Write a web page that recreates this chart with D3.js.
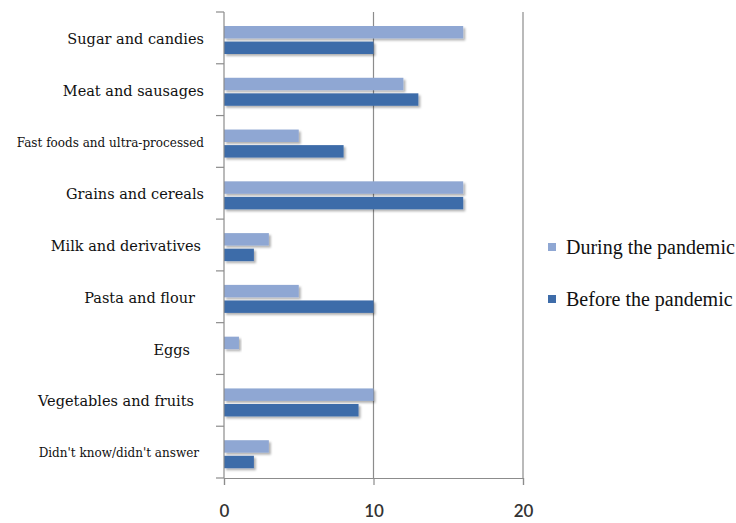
<!DOCTYPE html>
<html>
<head>
<meta charset="utf-8">
<script src="https://cdn.jsdelivr.net/npm/d3@7"></script>
<style>
  html, body { margin: 0; padding: 0; background: #fff; }
  svg { display: block; }
</style>
</head>
<body>
<svg id="chart" width="736" height="523"></svg>
<script>
// Food groups, top to bottom
const categories = [
  "Sugar and candies",
  "Meat and sausages",
  "Fast foods and ultra-processed",
  "Grains and cereals",
  "Milk and derivatives",
  "Pasta and flour",
  "Eggs",
  "Vegetables and fruits",
  "Didn't know/didn't answer"
];
const seriesNames = ["During the pandemic", "Before the pandemic"];
const duringValues = [16, 12, 5, 16, 3, 5, 1, 10, 3];
const beforeValues = [10, 13, 8, 16, 2, 10, 0, 9, 2];
const xTicks = [0, 10, 20];

const colors = { "During the pandemic": "#8fa7d3", "Before the pandemic": "#3e6ca9" };
const smallLabels = new Set(["Fast foods and ultra-processed", "Didn't know/didn't answer"]);
// a few labels sit a little left of the common right edge
const labelInset = { "Pasta and flour": 9, "Eggs": 14, "Vegetables and fruits": 10, "Milk and derivatives": 3, "Didn't know/didn't answer": 5 };

const svg = d3.select("#chart");
const plot = { left: 224, right: 523, top: 12, bottom: 478 };

const x = d3.scaleLinear().domain([0, 20]).range([plot.left, plot.right]);
const y = d3.scaleBand().domain(categories).range([plot.top, plot.bottom]);
const ySeries = d3.scaleBand().domain(seriesNames)
  .range([14, 14 + 28]).paddingInner(0.2);

// soft drop shadow under the bars
const defs = svg.append("defs");
const f = defs.append("filter").attr("id", "shadow")
  .attr("x", "-20%").attr("y", "-40%").attr("width", "140%").attr("height", "200%");
f.append("feDropShadow").attr("dx", 2).attr("dy", 2).attr("stdDeviation", 1.2)
  .attr("flood-color", "#000").attr("flood-opacity", 0.3);

// vertical gridlines
svg.append("g").selectAll("line").data(xTicks.filter(d => d > 0)).join("line")
  .attr("x1", d => x(d)).attr("x2", d => x(d))
  .attr("y1", plot.top).attr("y2", plot.bottom)
  .attr("stroke", "#8c8c8c").attr("stroke-width", 1.2);

// bars
const rows = categories.map((c, i) => ({
  cat: c,
  vals: [
    { s: seriesNames[0], v: duringValues[i] },
    { s: seriesNames[1], v: beforeValues[i] }
  ]
}));
const g = svg.append("g").selectAll("g").data(rows).join("g")
  .attr("transform", d => `translate(0,${y(d.cat)})`);
g.selectAll("rect").data(d => d.vals.filter(e => e.v > 0)).join("rect")
  .attr("x", x(0))
  .attr("y", d => ySeries(d.s))
  .attr("width", d => x(d.v) - x(0))
  .attr("height", ySeries.bandwidth())
  .attr("fill", d => colors[d.s])
  .attr("filter", "url(#shadow)");

// bottom axis
const xAxis = d3.axisBottom(x).tickValues(xTicks).tickSize(7).tickPadding(20).tickFormat(d3.format("d"));
const xg = svg.append("g").attr("transform", `translate(0,${plot.bottom})`).call(xAxis);
xg.select(".domain").attr("stroke", "#8c8c8c").attr("stroke-width", 1.2);
xg.selectAll(".tick line").attr("stroke", "#8c8c8c").attr("stroke-width", 1.2);
xg.selectAll(".tick text").attr("fill", "#333").attr("font-family", "Lato, 'Open Sans', sans-serif")
  .attr("font-size", 17).attr("font-weight", 600);

// left axis with ticks at category boundaries
svg.append("line").attr("x1", plot.left).attr("x2", plot.left)
  .attr("y1", plot.top).attr("y2", plot.bottom)
  .attr("stroke", "#8c8c8c").attr("stroke-width", 1.2);
const boundaries = categories.map(c => y(c)).concat([plot.bottom]);
svg.append("g").selectAll("line").data(boundaries).join("line")
  .attr("x1", plot.left - 8).attr("x2", plot.left)
  .attr("y1", d => d).attr("y2", d => d)
  .attr("stroke", "#8c8c8c").attr("stroke-width", 1.2);

// category labels
svg.append("g").selectAll("text").data(categories).join("text")
  .attr("x", d => 204 - (labelInset[d] || 0))
  .attr("y", d => y(d) + y.bandwidth() / 2 + 1)
  .attr("dy", "0.35em")
  .attr("text-anchor", "end")
  .attr("font-family", "'DejaVu Serif', serif")
  .attr("font-size", d => smallLabels.has(d) ? 12 : 14.5)
  .attr("fill", "#111")
  .text(d => d);

// legend
const legend = svg.append("g").selectAll("g").data(seriesNames).join("g")
  .attr("transform", (d, i) => `translate(548,${247 + i * 52})`);
legend.append("rect").attr("x", 0).attr("y", -4).attr("width", 8).attr("height", 8)
  .attr("fill", d => colors[d]);
legend.append("text").attr("x", 18).attr("dy", "0.35em")
  .attr("font-family", "'Liberation Serif', serif").attr("font-size", 20)
  .attr("fill", "#111").text(d => d);
</script>
</body>
</html>
